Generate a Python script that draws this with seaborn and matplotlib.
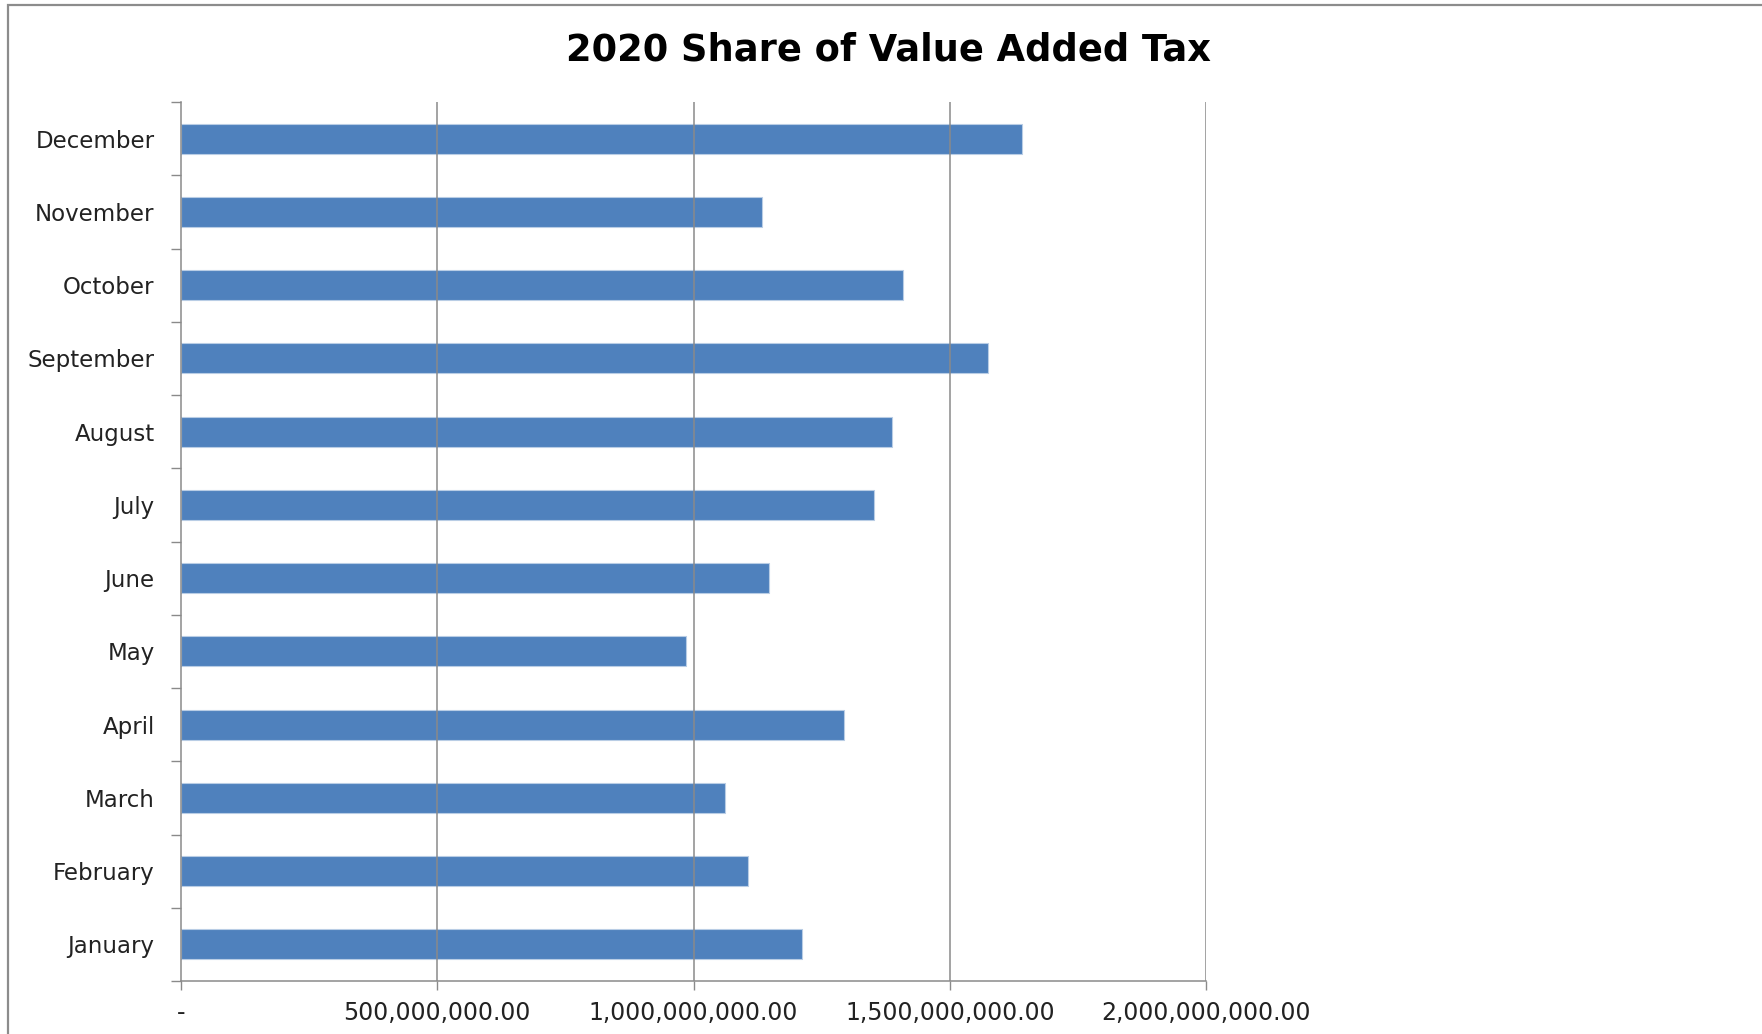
import matplotlib
matplotlib.use("Agg")
import matplotlib.pyplot as plt
import matplotlib.ticker as mticker
from matplotlib.patches import Rectangle
import numpy as np
import pandas as pd
import seaborn as sns

months = ["January", "February", "March", "April", "May", "June",
          "July", "August", "September", "October", "November", "December"]
vat_share = [1.211e9, 1.106e9, 1.061e9, 1.293e9, 0.986e9, 1.147e9,
             1.352e9, 1.388e9, 1.574e9, 1.408e9, 1.133e9, 1.641e9]
x_ticks = [0, 5e8, 1e9, 1.5e9, 2e9]
title = "2020 Share of Value Added Tax"

df = pd.DataFrame({"month": months, "vat": vat_share})

sns.set_theme(style="white")
plt.rcParams["font.family"] = ["DejaVu Sans"]

fig = plt.figure(figsize=(17.62, 10.34), dpi=100)
ax = fig.add_axes([181 / 1762, 1 - 981 / 1034, (1206 - 181) / 1762, (981 - 102) / 1034])

grid_col = "#8a8a8a"
sns.barplot(data=df, x="vat", y="month", order=months[::-1], orient="h",
            color="#4F81BD", saturation=1, width=0.41,
            edgecolor="#B9CDE5", linewidth=0.8, ax=ax, zorder=1)

ax.set_xlim(0, 2e9)
ax.set_ylim(11.5, -0.5)
ax.set_xticks(x_ticks)
ax.xaxis.set_major_formatter(mticker.FuncFormatter(
    lambda v, p: "-" if v == 0 else f"{v:,.2f}"))
ax.set_xlabel("")
ax.set_ylabel("")

# vertical gridlines drawn above the bars
for xv in x_ticks[1:]:
    ax.axvline(xv, color=grid_col, lw=1.1, zorder=3)

# category separators on the value axis
ax.set_yticks(np.arange(-0.5, 12, 1), minor=True)
ax.tick_params(axis="y", which="major", length=0, pad=19, labelsize=16.5,
               labelcolor="#222222")
ax.tick_params(axis="y", which="minor", left=True, length=7, width=1.0,
               color=grid_col, direction="out")
ax.tick_params(axis="x", which="major", bottom=True, length=6.5, width=1.0,
               color=grid_col, direction="out", pad=8, labelsize=17,
               labelcolor="#222222")

for side in ("top", "right"):
    ax.spines[side].set_visible(False)
for side in ("left", "bottom"):
    ax.spines[side].set_color(grid_col)
    ax.spines[side].set_linewidth(1.1)
    ax.spines[side].set_zorder(4)

fig.text(889 / 1762, 1 - 50 / 1034, title, ha="center", va="center",
         fontsize=26.5, fontweight="bold", color="black",
         family=["Liberation Sans Narrow", "DejaVu Sans"])

# chart frame
fig.patches.append(Rectangle((8 / 1762, -0.05), 1.2, 1 - 4.5 / 1034 + 0.05,
                             transform=fig.transFigure, fill=False,
                             edgecolor="#8c8c8c", lw=1.6))

fig.savefig("out.png", dpi=100)
